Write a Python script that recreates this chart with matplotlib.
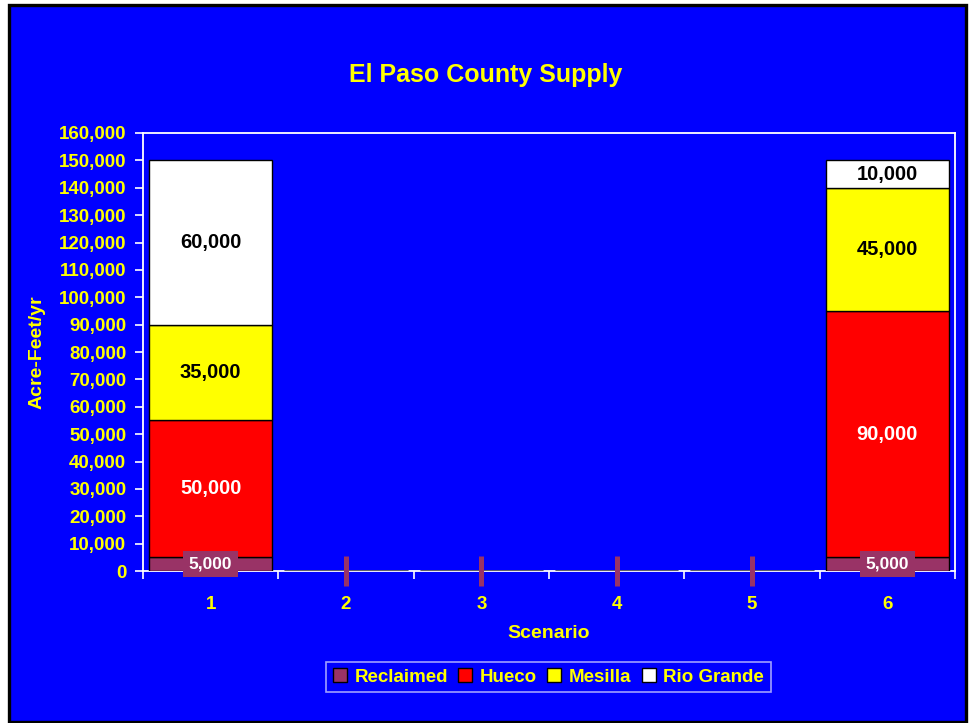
import matplotlib
matplotlib.use("Agg")
import matplotlib.pyplot as plt
from matplotlib.patches import Rectangle, Patch
import numpy as np

plt.rcParams['font.family'] = ['Liberation Sans', 'DejaVu Sans']

scenarios = [1, 2, 3, 4, 5, 6]
series_names = ["Reclaimed", "Hueco", "Mesilla", "Rio Grande"]
reclaimed = [5000, 0, 0, 0, 0, 5000]
hueco = [50000, 0, 0, 0, 0, 90000]
mesilla = [35000, 0, 0, 0, 0, 45000]
rio_grande = [60000, 0, 0, 0, 0, 10000]
yticks = list(range(0, 160001, 10000))

colors = ["#993366", "#FF0000", "#FFFF00", "#FFFFFF"]
label_colors = ["white", "white", "black", "black"]
BLUE = "#0000FF"
YEL = "#FFFF00"

W, H = 969, 723
fig = plt.figure(figsize=(W / 100, H / 100), dpi=100)
fig.patch.set_facecolor("white")
fig.patches.append(Rectangle((8.5 / W, 1.0 / H), (965.5 - 8.5) / W, (717.5) / H,
                             transform=fig.transFigure, facecolor=BLUE,
                             edgecolor="black", linewidth=2.4, zorder=-10))

ax = fig.add_axes([143 / W, (H - 571) / H, (955 - 143) / W, (571 - 133) / H])
ax.set_facecolor(BLUE)

x = np.array(scenarios, dtype=float)
width = 0.91
data = [reclaimed, hueco, mesilla, rio_grande]
bottom = np.zeros(len(x))
for vals, col, lc, name in zip(data, colors, label_colors, series_names):
    vals = np.array(vals, dtype=float)
    ax.bar(x, vals, width, bottom=bottom, color=col, edgecolor="black",
           linewidth=1.0, zorder=3, label=name)
    for xi, v, b in zip(x, vals, bottom):
        if v > 0:
            if name == "Reclaimed":
                ax.text(xi, b + v / 2, f"{int(v):,}", ha="center", va="center",
                        color="white", fontsize=12.5, fontweight="bold", zorder=6,
                        bbox=dict(boxstyle="square,pad=0.33", facecolor=col,
                                  edgecolor="none"))
            else:
                ax.text(xi, b + v / 2, f"{int(v):,}", ha="center", va="center",
                        color=lc, fontsize=14.5, fontweight="bold", zorder=6)
    bottom = bottom + vals

# empty data-label boxes for zero-value reclaimed entries
zero_x = [xi for xi, v in zip(scenarios, reclaimed) if v == 0]
zero_y = [v for v in reclaimed if v == 0]
ax.plot(zero_x, zero_y, linestyle="none", marker="|", markersize=21.6,
        markeredgewidth=3.6, color=colors[0], zorder=7, clip_on=False)

ax.set_xlim(0.5, 6.5)
ax.set_ylim(0, 160000)
ax.set_yticks(yticks)
ax.set_yticklabels([f"{t:,}" for t in yticks])
ax.set_xticks(x)
ax.set_xticklabels([str(s) for s in scenarios])
ax.set_xticks(np.arange(0.5, 6.6, 1.0), minor=True)
ax.tick_params(axis="x", which="major", length=0, pad=18)
ax.tick_params(axis="x", which="minor", length=6, width=1.2, color="white", direction="out")
ax.tick_params(axis="y", length=6, width=1.2, color="white", direction="out", pad=6)
for lab in ax.get_xticklabels() + ax.get_yticklabels():
    lab.set_color(YEL)
    lab.set_fontweight("bold")
    lab.set_fontsize(13.5)
for sp in ax.spines.values():
    sp.set_color("white")
    sp.set_linewidth(1.3)

ax.set_xlabel("Scenario", color=YEL, fontsize=14, fontweight="bold", labelpad=9)
ax.set_ylabel("Acre-Feet/yr", color=YEL, fontsize=14, fontweight="bold")
ax.yaxis.set_label_coords(-(143 - 46) / (955 - 143), 0.5)

fig.text(486 / W, (H - 75) / H, "El Paso County Supply", color=YEL, fontsize=18,
         fontweight="bold", ha="center", va="center")

handles = [Patch(facecolor=c, edgecolor="black", linewidth=1.0) for c in colors]
leg = fig.legend(handles, series_names, loc="center", ncol=4,
                 bbox_to_anchor=(548.5 / W, (H - 677) / H),
                 frameon=True, fancybox=False, facecolor=BLUE, edgecolor="#C8C8FF",
                 handlelength=0.75, handleheight=0.75, handletextpad=0.4,
                 columnspacing=0.55, borderpad=0.35, borderaxespad=0,
                 prop=dict(weight="bold", size=13.5))
leg.get_frame().set_linewidth(1.2)
for t in leg.get_texts():
    t.set_color(YEL)

fig.savefig("out.png", dpi=100, facecolor=fig.get_facecolor())
